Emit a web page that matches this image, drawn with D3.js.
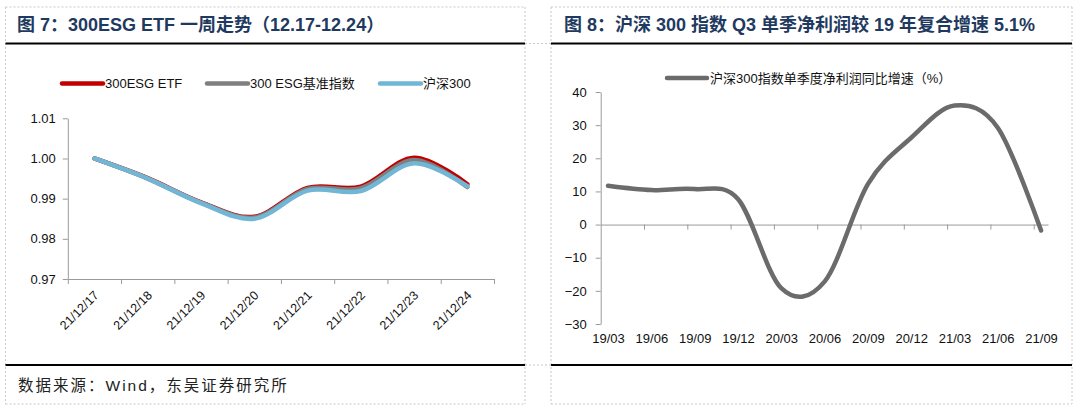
<!DOCTYPE html>
<html><head><meta charset="utf-8">
<script src="https://cdn.jsdelivr.net/npm/d3@7"></script>
<style>
body{margin:0;background:#fff;}
svg{display:block;font-family:"Liberation Sans",Arial,"Noto Sans CJK SC",sans-serif;}
</style></head><body>
<svg id="c" width="1080" height="408"></svg>
<script>
// ---------- data ----------
const dates = ["21/12/17","21/12/18","21/12/19","21/12/20","21/12/21","21/12/22","21/12/23","21/12/24"];
const etf   = [1.0000, 0.9951, 0.9891, 0.9855, 0.9927, 0.9930, 1.0002, 0.9936];
const bench = [1.0000, 0.9950, 0.9890, 0.9853, 0.9924, 0.9926, 0.9996, 0.9929];
const hs300 = [1.0000, 0.9950, 0.9889, 0.9850, 0.9920, 0.9919, 0.9988, 0.9931];
const leftTicks = [0.97, 0.98, 0.99, 1.00, 1.01];
const leftSeriesNames = ["300ESG ETF", "300 ESG基准指数", "沪深300"];

const quarters = ["19/03","19/06","19/09","19/12","20/03","20/06","20/09","20/12","21/03","21/06","21/09"];
const profitGrowth = [11.7, 10.4, 10.7, 7.7, -19.2, -17.2, 12.2, 26.2, 35.9, 29.2, -1.8];
const rightTicks = [-30, -20, -10, 0, 10, 20, 30, 40];
const rightSeriesName = "沪深300指数单季度净利润同比增速（%）";

const title7 = "图 7：300ESG ETF 一周走势（12.17-12.24）";
const title8 = "图 8：沪深 300 指数 Q3 单季净利润较 19 年复合增速 5.1%";
const sourceText = "数据来源：Wind，东吴证券研究所";

// ---------- frame ----------
const svg = d3.select("#c");
const dashC = "#C8C8C8";
function dashLine(x1,y1,x2,y2){svg.append("line").attr("x1",x1).attr("y1",y1).attr("x2",x2).attr("y2",y2)
  .attr("stroke",dashC).attr("stroke-width",1).attr("stroke-dasharray","2,2");}
function solidLine(x1,y1,x2,y2){svg.append("line").attr("x1",x1).attr("y1",y1).attr("x2",x2).attr("y2",y2)
  .attr("stroke","#000").attr("stroke-width",2);}
// left cell
dashLine(5.5,7,525,7); dashLine(5.5,7,5.5,404); dashLine(525,7,525,404); dashLine(5.5,404,525,404);
// right cell
dashLine(551,7,1072,7); dashLine(551,7,551,404); dashLine(1072,7,1072,404); dashLine(551,404,1072,404);
// bridges
dashLine(525,43.5,551,43.5); dashLine(525,365,551,365);
solidLine(5.5,43.5,525,43.5); solidLine(5.5,365,525,365);
solidLine(551,43.5,1072,43.5); solidLine(551,365,1072,365);

const titleC = "#1F3A60";
svg.append("text").attr("x",17).attr("y",31).attr("font-size",18).attr("font-weight","bold")
  .attr("fill",titleC).text(title7);
svg.append("text").attr("x",564).attr("y",31).attr("font-size",18).attr("font-weight","bold")
  .attr("fill",titleC).text(title8);
svg.append("text").attr("x",18).attr("y",391).attr("font-size",15.5).attr("letter-spacing","2px")
  .attr("fill","#222").text(sourceText);

const axisC = "#9A9A9A";
function styleAxis(g){
  g.selectAll("path.domain").attr("stroke",axisC).attr("stroke-width",1);
  g.selectAll(".tick line").attr("stroke",axisC).attr("stroke-width",1);
  g.selectAll(".tick text").attr("fill","#111").attr("font-size",13)
    .attr("font-family",'"Liberation Sans",Arial,sans-serif');
}

// ---------- left chart ----------
const xL0 = 67.8, xL1 = 494, yL0 = 279, yL1 = 118.3;
const xBand = d3.scaleBand().domain(dates).range([xL0, xL1]).padding(0);
const xIdx = d3.scaleLinear().domain([0, dates.length]).range([xL0, xL1]);
const yL = d3.scaleLinear().domain([0.97, 1.01]).range([yL0, yL1]);

const gyL = svg.append("g").attr("transform",`translate(${xL0},0)`)
  .call(d3.axisLeft(yL).tickValues(leftTicks).tickFormat(d3.format(".2f")).tickSizeInner(5).tickSizeOuter(0).tickPadding(7));
styleAxis(gyL);

const gxT = svg.append("g").attr("transform",`translate(0,${yL0})`)
  .call(d3.axisBottom(xIdx).tickValues(d3.range(dates.length+1)).tickFormat("").tickSizeInner(5).tickSizeOuter(0));
styleAxis(gxT);

const gxL = svg.append("g").attr("transform",`translate(0,${yL0})`)
  .call(d3.axisBottom(xBand).tickSize(0));
gxL.select("path.domain").remove();
styleAxis(gxL);
gxL.selectAll(".tick text").attr("font-size",12.5).attr("text-anchor","end")
  .attr("x",0).attr("y",0).attr("dy","0.35em").attr("transform","translate(2,14) rotate(-45)");

const curve = d3.curveCatmullRom.alpha(0);
const lineL = d3.line().x((d,i)=>xBand(dates[i]) + xBand.bandwidth()/2).y(d=>yL(d)).curve(curve);
const leftColors = ["#C00000", "#7F7F7F", "#72B6D6"];
[etf, bench, hs300].forEach((s,i)=>{
  svg.append("path").datum(s).attr("d",lineL).attr("fill","none")
    .attr("stroke",leftColors[i]).attr("stroke-width",4.5).attr("stroke-linecap","round").attr("stroke-linejoin","round");
});

// left legend
const legX = [62, 207, 380];
leftSeriesNames.forEach((n,i)=>{
  svg.append("line").attr("x1",legX[i]).attr("x2",legX[i]+41).attr("y1",83.5).attr("y2",83.5)
    .attr("stroke",leftColors[i]).attr("stroke-width",4.5).attr("stroke-linecap","round");
  svg.append("text").attr("x",legX[i]+43).attr("y",88).attr("font-size",13).attr("fill","#111").text(n);
});

// ---------- right chart ----------
const xR0 = 600.7, xR1 = 1048, yR0 = 324, yR1 = 92;
const xR = d3.scaleLinear().domain([-0.17, 10.16]).range([xR0, xR1]);
const yR = d3.scaleLinear().domain([-30, 40]).range([yR0, yR1]);

const gyR = svg.append("g").attr("transform",`translate(${xR0},0)`)
  .call(d3.axisLeft(yR).tickValues(rightTicks).tickSizeInner(5).tickSizeOuter(0).tickPadding(9));
styleAxis(gyR);

const gxR = svg.append("g").attr("transform",`translate(0,${yR(0)})`)
  .call(d3.axisBottom(xR).tickValues(d3.range(10).map(k=>k+0.83)).tickFormat("").tickSizeInner(5).tickSizeOuter(0));
styleAxis(gxR);

const gxRL = svg.append("g").attr("transform",`translate(0,${yR0})`)
  .call(d3.axisBottom(xR).tickValues(d3.range(quarters.length)).tickFormat(i=>quarters[i]).tickSize(0).tickPadding(10));
gxRL.select("path.domain").remove();
styleAxis(gxRL);

const lineR = d3.line().x((d,i)=>xR(i)).y(d=>yR(d)).curve(curve);
const rightColor = "#6B6B6B";
svg.append("path").datum(profitGrowth).attr("d",lineR).attr("fill","none")
  .attr("stroke",rightColor).attr("stroke-width",4.5).attr("stroke-linecap","round").attr("stroke-linejoin","round");

svg.append("line").attr("x1",667).attr("x2",707).attr("y1",78).attr("y2",78)
  .attr("stroke",rightColor).attr("stroke-width",4.5).attr("stroke-linecap","round");
svg.append("text").attr("x",710).attr("y",82.5).attr("font-size",13).attr("fill","#111").text(rightSeriesName);
</script>
</body></html>
